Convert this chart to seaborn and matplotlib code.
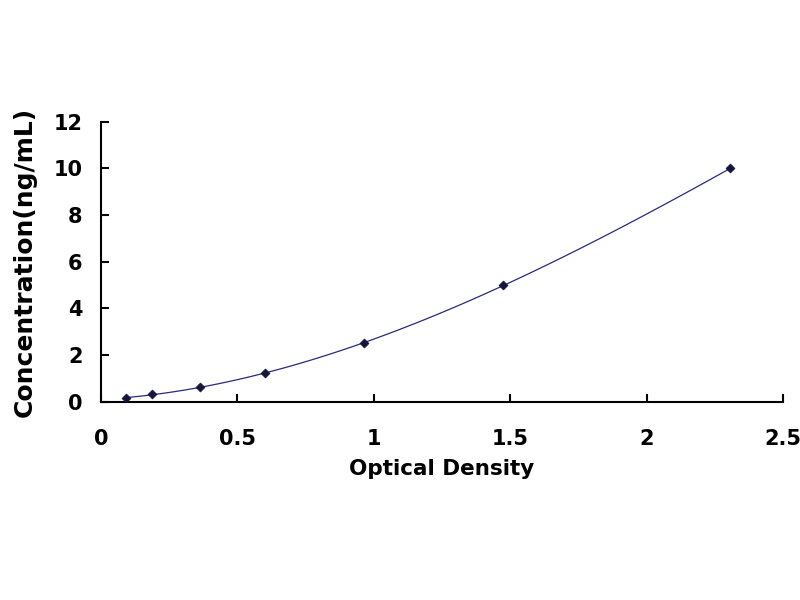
import matplotlib
matplotlib.use("Agg")
import matplotlib.pyplot as plt
import seaborn as sns
import pandas as pd

# standard curve values
optical_density = [0.093, 0.187, 0.364, 0.602, 0.965, 1.475, 2.306]
concentration = [0.156, 0.312, 0.625, 1.25, 2.5, 5.0, 10.0]
x_ticks = [0, 0.5, 1, 1.5, 2, 2.5]
x_tick_labels = ["0", "0.5", "1", "1.5", "2", "2.5"]
y_ticks = [0, 2, 4, 6, 8, 10, 12]

sns.set_theme(style="white")
plt.rcParams["font.family"] = ["DejaVu Sans"]
plt.rcParams["xtick.direction"] = "in"
plt.rcParams["ytick.direction"] = "in"

df = pd.DataFrame({"od": optical_density, "conc": concentration})

fig = plt.figure(figsize=(8, 6), dpi=100)
ax = fig.add_axes([0.126, 0.3305, 0.853, 0.4665])

# fitted curve
sns.regplot(data=df, x="od", y="conc", order=3, ci=None, ax=ax,
            scatter=False, line_kws={"color": "#2a2a80", "linewidth": 0.9})
sns.scatterplot(data=df, x="od", y="conc", ax=ax, marker="D", s=22,
                color="#14143c", edgecolor="#14143c", zorder=3)

ax.set_xlim(0, 2.5)
ax.set_ylim(0, 12)
ax.set_xticks(x_ticks)
ax.set_xticklabels(x_tick_labels)
ax.set_yticks(y_ticks)
sns.despine(ax=ax)
for s in ["left", "bottom"]:
    ax.spines[s].set_color("black")
    ax.spines[s].set_linewidth(1.5)
ax.tick_params(axis="y", direction="in", length=6, width=1.5, colors="black",
               labelsize=15, left=True, pad=13)
ax.tick_params(axis="x", direction="in", length=6, width=1.5, colors="black",
               labelsize=15, bottom=True, pad=20)
for lbl in ax.get_xticklabels() + ax.get_yticklabels():
    lbl.set_fontweight("bold")

ax.set_xlabel("Optical Density", fontsize=15.5, fontweight="bold",
              color="black", labelpad=7)
ax.set_ylabel("Concentration(ng/mL)", fontsize=18, fontweight="bold",
              color="black", labelpad=12)

fig.savefig("out.png", dpi=100, facecolor="white")
